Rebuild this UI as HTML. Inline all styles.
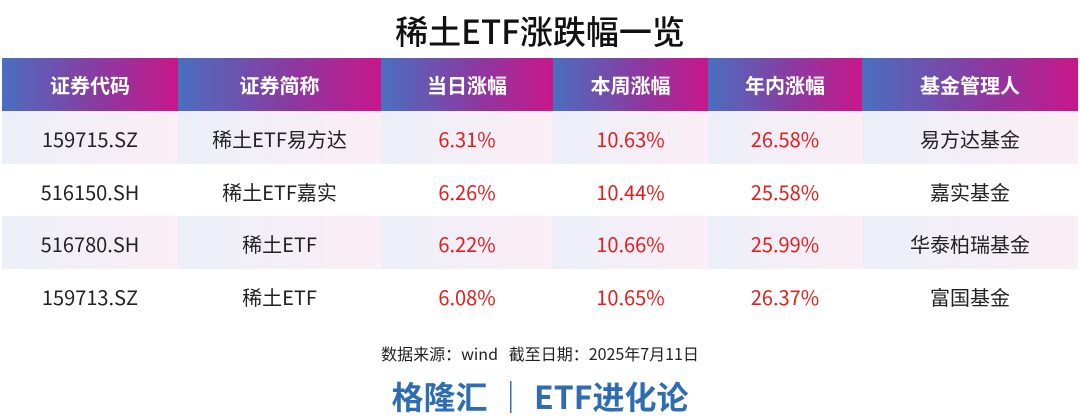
<!DOCTYPE html>
<html><head><meta charset="utf-8"><style>
body{margin:0;width:1080px;height:415px;background:#fff;font-family:"Noto Sans CJK SC",sans-serif;position:relative;overflow:hidden}
.title{position:absolute;top:7px;left:0;width:1080px;text-align:center;font-size:33px;font-weight:500;color:#111;line-height:46px}
table{position:absolute;top:58px;left:2px;border-collapse:collapse;table-layout:fixed}
th{height:53px;padding:0;color:#fff;font-size:20px;font-weight:bold;background:linear-gradient(90deg,#4a6fc0,#8a3aa0 55%,#c8178a);line-height:24px}
td{height:52.5px;padding:4px 0 0 0;box-sizing:border-box;text-align:center;font-size:20px;color:#222;line-height:24px;vertical-align:middle}
tr.shade td{background:linear-gradient(90deg,#eceff8,#fbeef6)}
td.r{color:#e0201f}
.src{position:absolute;top:342px;left:0;width:1080px;text-align:center;font-size:16px;color:#222;line-height:22px}
.brand{position:absolute;top:374px;left:0;width:1080px;text-align:center;font-size:32px;font-weight:bold;color:#2f6db3;line-height:44px}
</style></head><body>
<div class="title">稀土ETF涨跌幅一览</div>
<table>
<colgroup><col style="width:176px"><col style="width:203px"><col style="width:172px"><col style="width:155px"><col style="width:154px"><col style="width:216px"></colgroup>
<tr><th>证券代码</th><th>证券简称</th><th>当日涨幅</th><th>本周涨幅</th><th>年内涨幅</th><th>基金管理人</th></tr>
<tr class="shade"><td>159715.SZ</td><td>稀土ETF易方达</td><td class="r">6.31%</td><td class="r">10.63%</td><td class="r">26.58%</td><td>易方达基金</td></tr>
<tr><td>516150.SH</td><td>稀土ETF嘉实</td><td class="r">6.26%</td><td class="r">10.44%</td><td class="r">25.58%</td><td>嘉实基金</td></tr>
<tr class="shade"><td>516780.SH</td><td>稀土ETF</td><td class="r">6.22%</td><td class="r">10.66%</td><td class="r">25.99%</td><td>华泰柏瑞基金</td></tr>
<tr><td>159713.SZ</td><td>稀土ETF</td><td class="r">6.08%</td><td class="r">10.65%</td><td class="r">26.37%</td><td>富国基金</td></tr>
</table>
<div class="src">数据来源：wind&nbsp;&nbsp;&nbsp;截至日期：2025年7月11日</div>
<div class="brand">格隆汇 ｜ ETF进化论</div>
</body></html>
